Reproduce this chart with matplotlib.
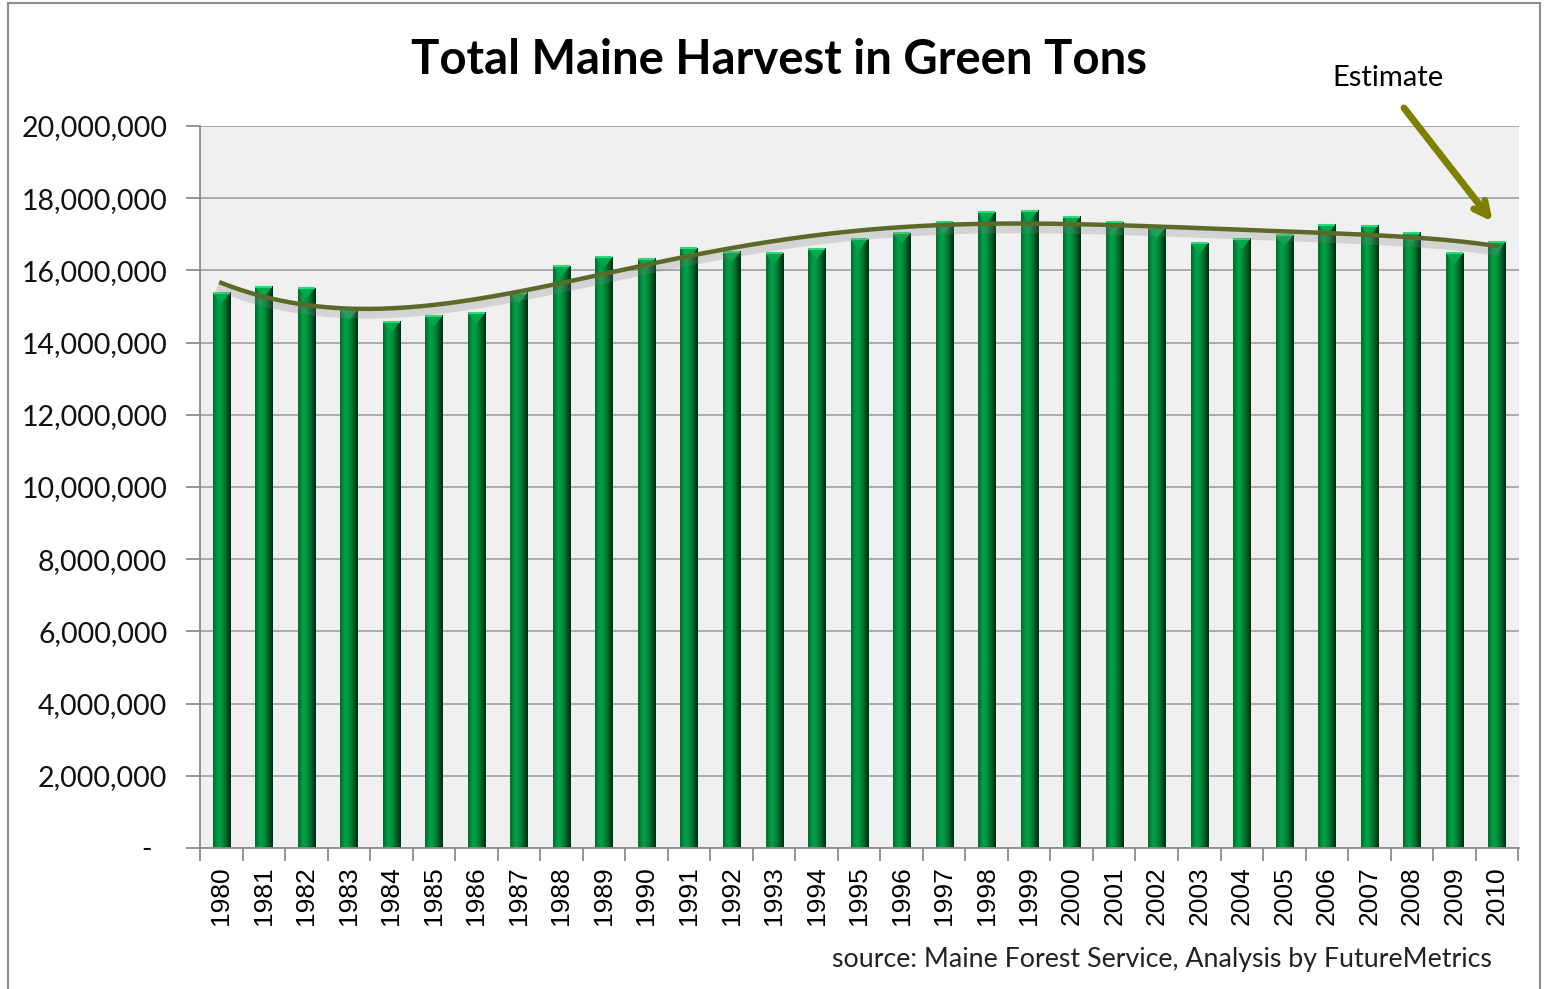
"""
Total Maine harvest in green tons, 1980-2010, with polynomial trendline
"""
import numpy as np
import matplotlib.pyplot as plt
import matplotlib as mpl
import matplotlib.patheffects as pe
from matplotlib.patches import Polygon, Rectangle
from matplotlib.colors import LinearSegmentedColormap

mpl.rcParams['font.family'] = ['Lato', 'DejaVu Sans']

#==============================================================================
# Harvest in millions of green tons
years = list(range(1980, 2011))
harvest_m = [15.38, 15.55, 15.51, 14.90, 14.58, 14.74, 14.82, 15.38, 16.12, 16.37,
             16.32, 16.61, 16.52, 16.47, 16.60, 16.86, 17.03, 17.33, 17.61, 17.65,
             17.49, 17.34, 17.18, 16.75, 16.88, 16.97, 17.27, 17.24, 17.04, 16.47,
             16.78]
yticks = list(range(0, 20000001, 2000000))

title = 'Total Maine Harvest in Green Tons'
source = 'source: Maine Forest Service, Analysis by FutureMetrics'

#==============================================================================
harvest = np.array(harvest_m) * 1e6
x = np.arange(len(years))

W, H = 1545, 989
fig = plt.figure(figsize=(W/100, H/100), dpi=100)
ax = fig.add_axes([200/W, 1-848/H, (1519-200)/W, (848-126)/H])
ax.set_facecolor('#f0f0f0')

# bars: shaded cylinder look with a light pointed cap
bar_w = 0.40
shade = LinearSegmentedColormap.from_list(
    'bar', [(0, '#006b2c'), (0.3, '#00a448'), (0.55, '#008a3a'),
            (0.85, '#004d1f'), (1, '#002810')])
grad = np.linspace(0, 1, 64).reshape(1, -1)
cap = 0.30e6
for xi, v in zip(x, harvest):
    ax.imshow(grad, extent=(xi-bar_w/2, xi+bar_w/2, 0, v), aspect='auto',
              cmap=shade, interpolation='bicubic', zorder=2)
    ax.add_patch(Polygon([(xi-bar_w/2, v), (xi+bar_w/2, v), (xi, v-cap)],
                         closed=True, facecolor='#00a84c', edgecolor='none',
                         zorder=3))
    ax.plot([xi-bar_w/2, xi+bar_w/2], [v, v], color='#2ed87a', lw=1.5,
            zorder=3, solid_capstyle='butt')

# polynomial trendline (order 6)
coef = np.polyfit(x, harvest, 6)
xs = np.linspace(0, len(years)-1, 300)
ax.plot(xs, np.polyval(coef, xs), color='#5b6a28', lw=3.2, zorder=4,
        path_effects=[pe.SimpleLineShadow(offset=(0, -4), shadow_color='#808080',
                                          alpha=0.25, linewidth=6),
                      pe.Normal()])

ax.set_xlim(-0.47, len(years)-0.48)
ax.set_ylim(0, 20000000)

# axes and grid
ax.set_yticks(yticks)
ax.set_yticklabels(['{:,}'.format(t) if t > 0 else '-  ' for t in yticks],
                   fontsize=20.5)
ax.yaxis.grid(True, color='#a6a6a6', lw=1.3)
ax.set_axisbelow(True)
ax.tick_params(axis='y', length=10, width=1.3, color='#8c8c8c', pad=13.5,
               labelcolor='#111111')

ax.set_xticks(x)
ax.set_xticklabels([str(y) for y in years], rotation=90, fontsize=19,
                   family='Liberation Sans')
ax.set_xticks(np.arange(len(years)+1) - 0.5, minor=True)
ax.tick_params(axis='x', which='major', length=0, pad=13)
ax.tick_params(axis='x', which='minor', length=9, width=1.3, color='#8c8c8c')

for s in ['top', 'right']:
    ax.spines[s].set_visible(False)
for s in ['left', 'bottom']:
    ax.spines[s].set_color('#8c8c8c')
    ax.spines[s].set_linewidth(1.3)

# title, note and arrow
fig.text(779/W, 1-60/H, title, ha='center', va='center', fontsize=34,
         fontweight='bold')
fig.text(1492/W, 1-960/H, source, ha='right', va='center', fontsize=19.3,
         color='#222222')
fig.text(1388/W, 1-78/H, 'Estimate', ha='center', va='center', fontsize=21)
ax.annotate('', xy=(29.9, 17.35e6), xycoords='data',
            xytext=(1404, H-108), textcoords='figure pixels',
            arrowprops=dict(arrowstyle='->,head_length=1.0,head_width=0.5',
                            color='#7f7f00', lw=5, shrinkA=0, shrinkB=0))

# outer frame
fig.patches.append(Rectangle((8/W, -0.05), (1540-8)/W, 1.05-3/H,
                             transform=fig.transFigure, fill=False,
                             edgecolor='#8c8c8c', lw=1.5))

plt.savefig('out.png', dpi=100)
